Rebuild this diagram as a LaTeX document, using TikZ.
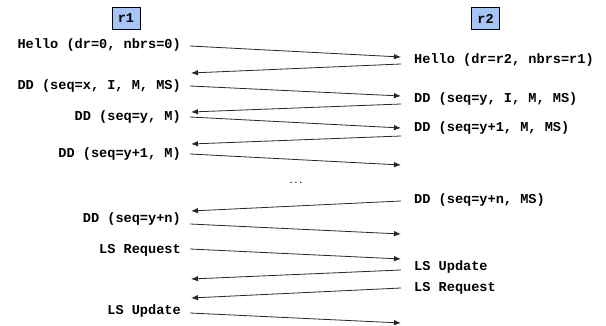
\documentclass[tikz,border=0pt]{standalone}
\usepackage{fontspec}
\setmonofont{Liberation Mono}
\usetikzlibrary{arrows.meta}
\definecolor{boxblue}{RGB}{166,196,244}
\definecolor{linegray}{RGB}{40,40,40}
\begin{document}
\begin{tikzpicture}[x=1pt,y=-1pt,
  lbl/.style={font=\ttfamily\bfseries\fontsize{13.6}{14}\selectfont, inner sep=0pt},
  llbl/.style={lbl, anchor=east},
  rlbl/.style={lbl, anchor=west},
  hdr/.style={draw=black, fill=boxblue, minimum width=28pt, minimum height=22pt, inner sep=0pt, font=\ttfamily\bfseries\fontsize{13.6}{14}\selectfont},
  msg/.style={draw=linegray, line width=0.8pt, -{Latex[length=7pt,width=5.5pt]}}]
\useasboundingbox (0,0) rectangle (606,326);
\node[hdr] (r1) at (126,18.5) {r1};
\node[hdr] (r2) at (485.5,18.5) {r2};
% left labels
\node[llbl] (l1) at (181,45) {Hello (dr=0, nbrs=0)};
\node[llbl] (l2) at (181,86) {DD (seq=x, I, M, MS)};
\node[llbl] (l3) at (181,117) {DD (seq=y, M)};
\node[llbl] (l4) at (181,154) {DD (seq=y+1, M)};
\node[llbl] (l5) at (181,219) {DD (seq=y+n)};
\node[llbl] (l6) at (181,250) {LS Request};
\node[llbl] (l7) at (181,311) {LS Update};
% right labels
\node[rlbl] (q1) at (414,60) {Hello (dr=r2, nbrs=r1)};
\node[rlbl] (q2) at (414,99) {DD (seq=y, I, M, MS)};
\node[rlbl] (q3) at (414,128) {DD (seq=y+1, M, MS)};
\node[rlbl] (q4) at (414,200) {DD (seq=y+n, MS)};
\node[rlbl] (q5) at (414,267) {LS Update};
\node[rlbl] (q6) at (414,288) {LS Request};
\node[font=\ttfamily\bfseries\fontsize{8}{9}\selectfont, inner sep=0pt] (dots) at (296,183) {...};
% endpoints
\coordinate (a1) at (190,46);  \coordinate (b1) at (401,57);
\coordinate (b2) at (401,64);  \coordinate (a2) at (191,73);
\coordinate (a3) at (190,86);  \coordinate (b3) at (401,96);
\coordinate (b4) at (401,104); \coordinate (a4) at (191,112);
\coordinate (a5) at (190,117); \coordinate (b5) at (401,128);
\coordinate (b6) at (401,136); \coordinate (a6) at (191,144);
\coordinate (a7) at (190,154); \coordinate (b7) at (401,165);
\coordinate (b8) at (401,201); \coordinate (a8) at (191,211);
\coordinate (a9) at (190,224); \coordinate (b9) at (401,234);
\coordinate (a10) at (190,249); \coordinate (b10) at (401,259);
\coordinate (b11) at (401,270); \coordinate (a11) at (191,279);
\coordinate (b12) at (401,288); \coordinate (a12) at (191,298);
\coordinate (a13) at (190,313); \coordinate (b13) at (401,323);
\draw[msg] (a1) -- (b1);
\draw[msg] (b2) -- (a2);
\draw[msg] (a3) -- (b3);
\draw[msg] (b4) -- (a4);
\draw[msg] (a5) -- (b5);
\draw[msg] (b6) -- (a6);
\draw[msg] (a7) -- (b7);
\draw[msg] (b8) -- (a8);
\draw[msg] (a9) -- (b9);
\draw[msg] (a10) -- (b10);
\draw[msg] (b11) -- (a11);
\draw[msg] (b12) -- (a12);
\draw[msg] (a13) -- (b13);
\end{tikzpicture}
\end{document}
